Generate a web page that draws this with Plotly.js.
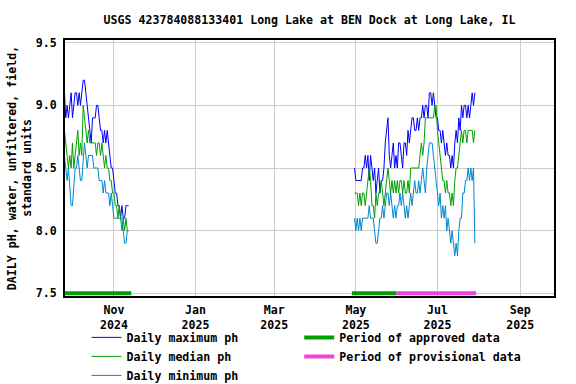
<!DOCTYPE html>
<html>
<head>
<meta charset="utf-8">
<script src="https://cdn.plot.ly/plotly-3.0.1.min.js"></script>
<style>
html,body{margin:0;padding:0;background:#fff;}
#chart{width:576px;height:384px;}
</style>
</head>
<body>
<div id="chart"></div>
<script>
// ---- Data (daily pH values) ----
const seg1Start = '2024-09-25';
const seg2Start = '2025-04-30';

const max1 = [9.1,8.9,9.0,8.9,9.0,9.1,8.9,9.0,9.1,9.1,
              9.0,9.1,9.0,9.1,9.2,9.2,9.1,9.0,8.9,8.8,
              8.7,8.9,8.9,8.9,9.0,9.0,8.9,8.8,8.8,8.7,
              8.8,8.7,8.8,8.7,8.6,8.5,8.5,8.4,8.3,8.3,
              8.2,8.2,8.1,8.2,8.1,8.1,8.2,8.2,8.2];
const med1 = [8.8,8.7,8.6,8.5,8.6,8.5,8.7,8.5,8.6,8.7,
              8.8,8.6,8.7,8.6,9.0,8.9,8.8,8.7,8.8,8.7,
              8.7,8.7,8.7,8.7,8.6,8.7,8.7,8.6,8.7,8.6,
              8.5,8.6,8.5,8.5,8.4,8.4,8.3,8.3,8.2,8.2,
              8.1,8.2,8.1,8.0,8.1,8.0,8.1,8.0,8.0];
const min1 = [8.6,8.5,8.4,8.5,8.3,8.2,8.2,8.4,8.5,8.5,
              8.6,8.5,8.4,8.4,8.6,8.7,8.6,8.5,8.6,8.6,
              8.6,8.6,8.5,8.5,8.5,8.5,8.4,8.4,8.4,8.3,
              8.4,8.3,8.3,8.3,8.2,8.3,8.2,8.1,8.1,8.1,
              8.1,8.1,8.1,8.1,8.0,7.9,7.9,8.0,8.0];

const max2 = [8.5,8.4,8.4,8.4,8.4,8.4,8.5,8.5,8.6,8.5,
              8.6,8.4,8.6,8.5,8.4,8.5,8.3,8.4,8.5,8.3,
              8.4,8.4,8.5,8.7,8.8,8.9,8.6,8.5,8.6,8.7,
              8.5,8.6,8.5,8.7,8.7,8.6,8.5,8.7,8.7,8.6,
              8.8,8.7,8.8,8.9,8.9,8.8,
              8.8,8.9,8.8,8.9,8.9,9.0,8.9,9.0,9.0,8.9,
              9.1,9.1,9.0,9.1,9.0,8.9,8.9,8.8,8.8,8.7,
              8.8,8.7,8.6,8.7,8.6,8.6,8.5,8.6,8.5,8.7,
              8.8,8.7,8.9,8.8,9.0,8.9,9.0,9.0,8.9,9.0,
              8.9,9.0,9.1,9.0,9.1];
const med2 = [8.3,8.3,8.3,8.2,8.3,8.2,8.3,8.3,8.2,8.3,
              8.4,8.5,8.4,8.2,8.2,8.1,8.3,8.2,8.3,8.3,
              8.4,8.3,8.2,8.3,8.4,8.5,8.4,8.3,8.4,8.3,
              8.4,8.3,8.4,8.3,8.4,8.4,8.3,8.4,8.3,8.3,
              8.4,8.3,8.5,8.5,8.5,8.5,
              8.5,8.5,8.5,8.6,8.7,8.6,8.7,8.9,8.9,8.9,
              8.9,8.9,8.9,8.9,9.0,9.0,8.8,8.7,8.6,8.5,
              8.4,8.4,8.3,8.4,8.3,8.3,8.2,8.3,8.2,8.4,
              8.5,8.5,8.6,8.7,8.8,8.7,8.8,8.8,8.7,8.8,
              8.8,8.8,8.8,8.7,8.8];
const min2 = [8.1,8.0,8.1,8.0,8.1,8.0,8.1,8.1,8.1,8.1,
              8.1,8.2,8.1,8.1,8.1,8.0,7.9,7.9,8.0,8.1,
              8.1,8.2,8.1,8.2,8.3,8.3,8.2,8.3,8.2,8.1,
              8.2,8.1,8.2,8.2,8.3,8.2,8.3,8.2,8.1,8.2,
              8.1,8.2,8.3,8.2,8.3,8.4,
              8.3,8.3,8.4,8.3,8.4,8.5,8.4,8.3,8.5,8.6,
              8.7,8.7,8.7,8.6,8.5,8.4,8.3,8.2,8.3,8.1,
              8.2,8.1,8.2,8.0,8.1,8.0,7.9,8.0,7.9,7.8,
              7.9,7.8,8.0,8.1,8.1,8.3,8.3,8.4,8.4,8.5,
              8.4,8.5,8.4,8.5,7.9];

const approvedPeriods = [['2024-09-20', '2024-11-14'], ['2025-04-28', '2025-05-31 10:00']];
const provisionalPeriods = [['2025-05-31 10:00', '2025-07-30']];
const periodLevel = 7.5;

const tickLabelFormat = '%b<br>%Y';
const titleText = 'USGS 423784088133401 Long Lake at BEN Dock at Long Lake, IL';
const yTitleText = 'DAILY pH, water, unfiltered, field,<br>standard units';

// ---- helpers ----
function dayList(start, n) {
  const out = [];
  const d0 = new Date(start + 'T00:00:00Z');
  for (let i = 0; i < n; i++) {
    const d = new Date(d0.getTime() + i * 86400000);
    out.push(d.toISOString().slice(0, 10));
  }
  return out;
}
function joinSegments(segs) {
  const xs = [], ys = [];
  segs.forEach((s, k) => {
    if (k > 0) { xs.push(null); ys.push(null); }
    const days = dayList(s[0], s[1].length);
    xs.push(...days); ys.push(...s[1]);
  });
  return {x: xs, y: ys};
}
function periodXY(periods) {
  const xs = [], ys = [];
  periods.forEach((p, k) => {
    if (k > 0) { xs.push(null); ys.push(null); }
    xs.push(p[0], p[1]); ys.push(periodLevel, periodLevel);
  });
  return {x: xs, y: ys};
}

const maxS = joinSegments([[seg1Start, max1], [seg2Start, max2]]);
const medS = joinSegments([[seg1Start, med1], [seg2Start, med2]]);
const minS = joinSegments([[seg1Start, min1], [seg2Start, min2]]);
const appS = periodXY(approvedPeriods);
const proS = periodXY(provisionalPeriods);

const FONT = 'DejaVu Sans Mono, Liberation Mono, monospace';
const fsize = 11.6;
const tfont = {family: FONT, size: fsize, color: '#000', weight: 'bold'};

const traces = [
  {x: maxS.x, y: maxS.y, name: 'Daily maximum ph', mode: 'lines', line: {color: '#0000ff', width: 1}, connectgaps: false, legend: 'legend'},
  {x: medS.x, y: medS.y, name: 'Daily median ph', mode: 'lines', line: {color: '#00a000', width: 1}, connectgaps: false, legend: 'legend'},
  {x: minS.x, y: minS.y, name: 'Daily minimum ph', mode: 'lines', line: {color: '#0088cc', width: 1}, connectgaps: false, legend: 'legend'},
  {x: appS.x, y: appS.y, name: 'Period of approved data', mode: 'lines', line: {color: '#00a000', width: 4}, connectgaps: false, legend: 'legend2'},
  {x: proS.x, y: proS.y, name: 'Period of provisional data', mode: 'lines', line: {color: '#ee44dd', width: 4}, connectgaps: false, legend: 'legend2'}
];

const legendCommon = {
  orientation: 'v', xanchor: 'left', yanchor: 'top', y: -0.105,
  traceorder: 'normal', bgcolor: 'rgba(0,0,0,0)', borderwidth: 0, font: tfont
};

const layout = {
  width: 576, height: 384,
  margin: {l: 65, r: 22, t: 40, b: 88, autoexpand: false},
  paper_bgcolor: '#ffffff', plot_bgcolor: '#ffffff',
  font: tfont,
  showlegend: true,
  title: {text: titleText, x: 0.5, xref: 'paper', xanchor: 'center', y: 1 - 20/384, yref: 'container', yanchor: 'middle', font: tfont},
  xaxis: {
    type: 'date',
    range: ['2024-09-25 10:00', '2025-09-26 05:00'],
    tick0: '2024-11-01', dtick: 'M2', tickformat: tickLabelFormat,
    showgrid: true, gridcolor: '#cccccc', gridwidth: 1,
    showline: true, linecolor: '#000', linewidth: 2, mirror: true,
    ticks: '', zeroline: false, ticklabelstandoff: 2, tickfont: tfont
  },
  yaxis: {
    range: [7.479, 9.521],
    tick0: 7.5, dtick: 0.5, tickformat: '.1f',
    showgrid: true, gridcolor: '#cccccc', gridwidth: 1,
    showline: true, linecolor: '#000', linewidth: 2, mirror: true,
    ticks: '', zeroline: false, ticklabelstandoff: 4, tickfont: tfont,
    title: {text: yTitleText, standoff: 2, font: tfont}
  },
  legend: Object.assign({}, legendCommon, {x: 0.044}),
  legend2: Object.assign({}, legendCommon, {x: 0.479})
};

Plotly.newPlot('chart', traces, layout, {displayModeBar: false, staticPlot: true});
</script>
</body>
</html>
